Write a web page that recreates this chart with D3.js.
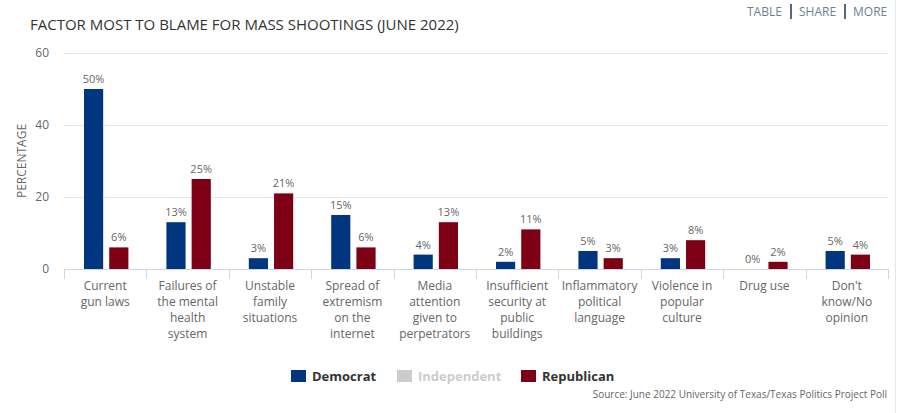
<!DOCTYPE html>
<html>
<head>
<meta charset="utf-8">
<script src="https://cdn.jsdelivr.net/npm/d3@7"></script>
<style>
  body { margin: 0; background: #fff; font-family: "Open Sans", sans-serif; }
  svg text { font-family: "Open Sans", sans-serif; }
</style>
</head>
<body>
<div id="chart"></div>
<script>
// chart values
const categories = [
    ["Current", "gun laws"],
    ["Failures of", "the mental", "health", "system"],
    ["Unstable", "family", "situations"],
    ["Spread of", "extremism", "on the", "internet"],
    ["Media", "attention", "given to", "perpetrators"],
    ["Insufficient", "security at", "public", "buildings"],
    ["Inflammatory", "political", "language"],
    ["Violence in", "popular", "culture"],
    ["Drug use"],
    ["Don't", "know/No", "opinion"]
];
const democrat = [50, 13, 3, 15, 4, 2, 5, 3, 0, 5];
const republican = [6, 25, 21, 6, 13, 11, 3, 8, 2, 4];
const yTicks = [0, 20, 40, 60];
const legendItems = ["Democrat", "Independent", "Republican"];

const W = 898, H = 413;
const margin = {top: 53, right: 10, bottom: 144, left: 64};
const colors = {Democrat: "#003580", Independent: "#cccccc", Republican: "#7d0014"};

const svg = d3.select("#chart").append("svg")
    .attr("width", W)
    .attr("height", H);

// right border line
svg.append("line")
    .attr("x1", 895.5).attr("x2", 895.5)
    .attr("y1", 0).attr("y2", H)
    .attr("stroke", "#e6e6e6");

// title
svg.append("text")
    .attr("x", 30)
    .attr("y", 30)
    .text("FACTOR MOST TO BLAME FOR MASS SHOOTINGS (JUNE 2022)")
    .attr("font-size", 15)
    .attr("fill", "#333");

// top right links
const links = svg.append("g").attr("font-size", 12).attr("fill", "#6f7f91");
links.append("text").attr("x", 747).attr("y", 16).text("TABLE");
links.append("text").attr("x", 799).attr("y", 16).text("SHARE");
links.append("text").attr("x", 853).attr("y", 16).text("MORE");
[791, 845].forEach(x => {
    links.append("line")
        .attr("x1", x).attr("x2", x)
        .attr("y1", 4).attr("y2", 19)
        .attr("stroke", "#1d3557")
        .attr("stroke-width", 1.5);
});

const x = d3.scaleBand()
    .domain(d3.range(categories.length))
    .range([64, 888]);

const y = d3.scaleLinear()
    .domain([0, 60])
    .range([269, 53]);

const sub = d3.scaleBand()
    .domain(["Democrat", "Republican"])
    .range([20, x.bandwidth() - 18])
    .paddingInner(0.24);

// gridlines
svg.append("g")
    .selectAll("line")
    .data(yTicks)
    .enter()
    .append("line")
    .attr("x1", 64)
    .attr("x2", 888)
    .attr("y1", d => Math.round(y(d)) + 0.5)
    .attr("y2", d => Math.round(y(d)) + 0.5)
    .attr("stroke", "#e6e6e6");

// y axis labels
svg.append("g")
    .selectAll("text")
    .data(yTicks)
    .enter()
    .append("text")
    .attr("x", 49)
    .attr("y", d => y(d) + 4)
    .attr("text-anchor", "end")
    .attr("font-size", 12)
    .attr("fill", "#666")
    .text(d => d);

// y axis title
svg.append("text")
    .attr("transform", "translate(26,161) rotate(-90)")
    .attr("text-anchor", "middle")
    .attr("font-size", 12)
    .attr("fill", "#666")
    .text("PERCENTAGE");

// bars
const series = [["Democrat", democrat], ["Republican", republican]];
series.forEach(([name, vals]) => {
    const g = svg.append("g");
    g.selectAll("rect")
        .data(vals)
        .enter()
        .append("rect")
        .attr("x", (d, i) => x(i) + sub(name))
        .attr("width", sub.bandwidth())
        .attr("y", d => y(d))
        .attr("height", d => y(0) - y(d))
        .attr("fill", colors[name]);
    g.selectAll("text")
        .data(vals)
        .enter()
        .append("text")
        .attr("x", (d, i) => x(i) + sub(name) + sub.bandwidth() / 2)
        .attr("y", d => y(d) - 6)
        .attr("text-anchor", "middle")
        .attr("font-size", 11)
        .attr("fill", "#666")
        .text(d => d + "%");
});

// x axis line and ticks
svg.append("line")
    .attr("x1", 64).attr("x2", 888)
    .attr("y1", 269.5).attr("y2", 269.5)
    .attr("stroke", "#ccd6eb");
svg.append("g")
    .selectAll("line")
    .data(d3.range(categories.length + 1))
    .enter()
    .append("line")
    .attr("x1", d => Math.round(64 + d * x.step()) + 0.5)
    .attr("x2", d => Math.round(64 + d * x.step()) + 0.5)
    .attr("y1", 269)
    .attr("y2", 279)
    .attr("stroke", "#ccd6eb");

// category labels
const catLabels = svg.append("g")
    .selectAll("text")
    .data(categories)
    .enter()
    .append("text")
    .attr("text-anchor", "middle")
    .attr("font-size", 12)
    .attr("fill", "#666");
catLabels.each(function (lines, i) {
    d3.select(this).selectAll("tspan")
        .data(lines)
        .enter()
        .append("tspan")
        .attr("x", x(i) + x.bandwidth() / 2)
        .attr("y", (d, j) => 290 + j * 16)
        .text(d => d);
});

// legend
const legendX = [291, 397, 521];
const legend = svg.append("g");
legendItems.forEach((name, i) => {
    legend.append("rect")
        .attr("x", legendX[i])
        .attr("y", 370)
        .attr("width", 15)
        .attr("height", 12)
        .attr("fill", colors[name]);
    legend.append("text")
        .attr("x", legendX[i] + 21)
        .attr("y", 381)
        .attr("font-size", 13)
        .attr("font-weight", "bold")
        .attr("fill", name === "Independent" ? "#cccccc" : "#333")
        .text(name);
});

// source
svg.append("text")
    .attr("x", 887)
    .attr("y", 398)
    .attr("text-anchor", "end")
    .attr("font-size", 10)
    .attr("fill", "#666")
    .text("Source: June 2022 University of Texas/Texas Politics Project Poll");
</script>
</body>
</html>
